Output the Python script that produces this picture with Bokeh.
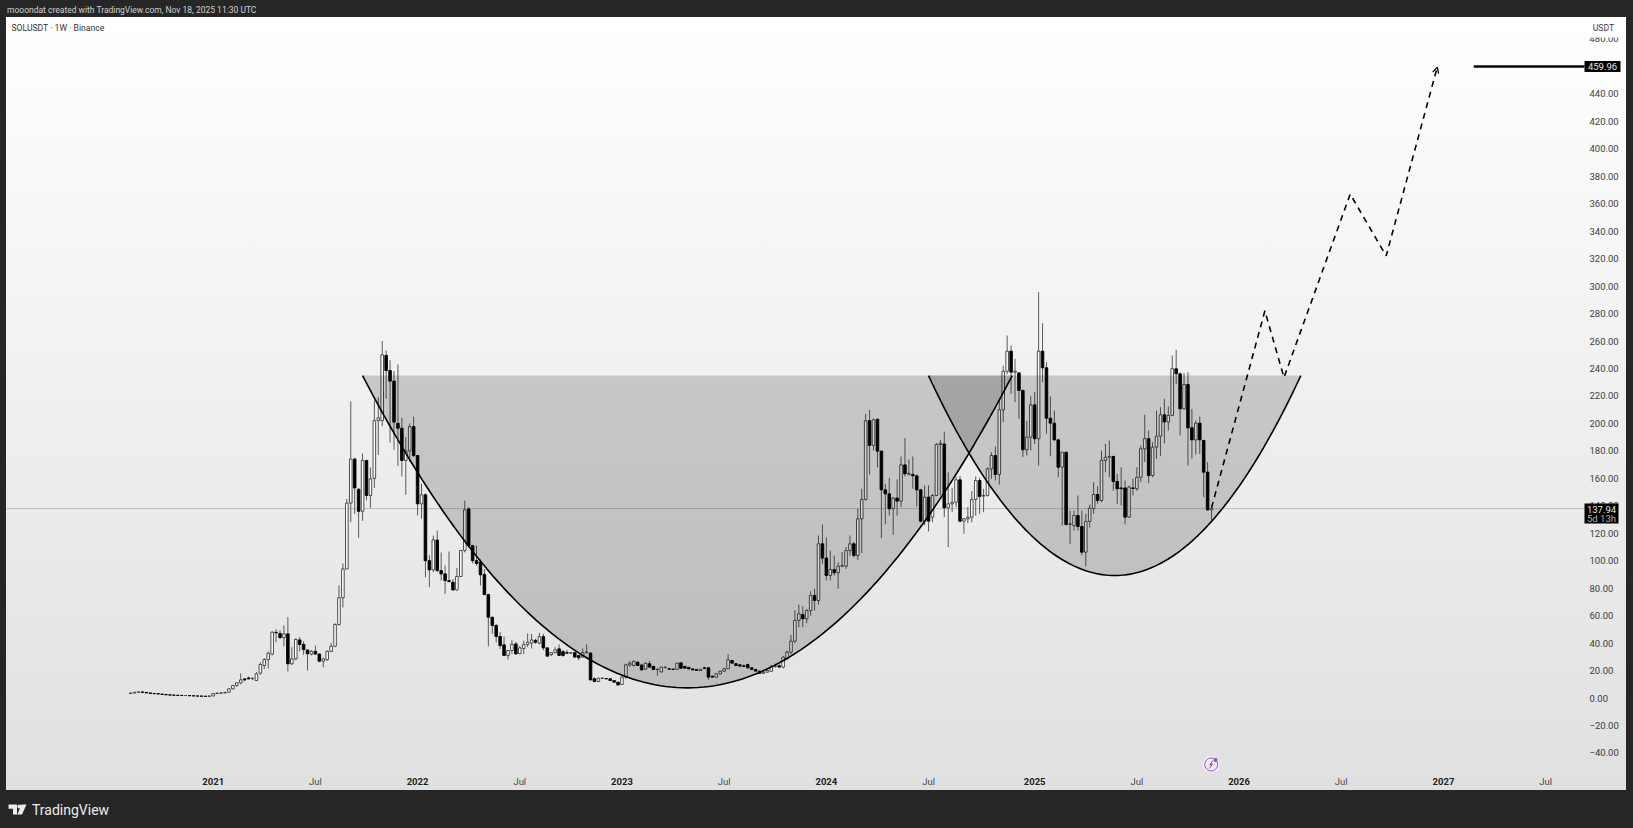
from datetime import datetime, timedelta, timezone
import numpy as np
from bokeh.plotting import figure
from bokeh.embed import file_html
from bokeh.resources import INLINE
from bokeh.models import (ColumnDataSource, FixedTicker, Label, PolyAnnotation, Arrow, OpenHead,
                          GlobalInlineStyleSheet)

# ---------- data ----------
first_week = "2020-08-10"
opens = [3.3,3.6,4.2,4.4,4.1,3.7,3.3,3.1,2.9,2.6,2.3,2.1,2.0,1.9,1.8,1.8,1.6,1.5,1.4,1.3,
 1.2,1.5,3.2,3.5,3.7,4.2,6.7,9.1,11,13.9,14.6,14,12.7,18.1,23.7,28,32,47.8,47,44,
 46.7,24.9,28.5,42.3,39,35,32,34,32,26.8,28,34,37.7,53.5,73,94,142,174,152,136,
 173,147.5,160,202,202,249.5,238.5,230.8,200,196.5,173,180,197.7,176.6,141.4,148,100,93.3,115,92.8,
 90.4,85.5,84.3,78.7,88.5,107.4,137.7,111,100,99,90,75.3,58.8,52.8,44.8,38.7,31,34.6,39.4,32.3,
 36,39,40,42,40,44.7,36.5,31.5,33,35.8,33.8,33,32.7,33,31,29.8,33,32.7,14,12,
 14.3,14.2,14,12.7,11.5,9.9,15.2,24,23.7,26,24,21,25,23,20.7,19,22.3,21.3,21,20.8,
 25.6,23,22.3,21.2,20.7,20,22,22,15.8,15.2,17.6,19.5,21.3,27.3,25,24.2,23.4,24.4,22,20.8,
 19.5,18,18.8,19.5,23,23.5,22.5,28.5,33.4,41.4,56.5,60.8,57.7,63.7,74.7,71,112.3,101.9,89.2,93.6,
 91.2,96,96,107.4,112.3,103.8,130.5,144.6,202,184,203,179.8,151.6,148.7,138,145.6,143.4,169.8,163,162.8,
 161.8,151.6,128.8,146.3,131.7,147.5,184.6,185,138.5,141.4,142.6,158.9,128.8,130.5,131.7,144.6,158.4,147,147.5,166.9,
 176.6,162.8,209.9,238,252.6,237.3,236.8,224,180.8,190,213.5,188.8,252.6,240.5,203.8,200.2,188,168.1,179,126.4,
 125.6,132.9,124.9,106.2,128.6,138,148.2,143.8,173,175.4,175.9,157.7,153,153,131.7,153,152.4,160.8,181.5,188.9,
 162,182.7,190.7,206.3,201,205.8,239.8,236.1,210.6,228.3,196.8,188,200.2,187.6,164.5,137]
highs = [3.9,4.4,4.6,4.6,4.2,3.8,3.5,3.2,3.0,2.7,2.5,2.3,2.2,2.1,2.0,1.9,1.8,1.7,1.6,1.5,
 1.7,3.6,4.0,4.2,4.4,7,9.5,11.4,18,14.5,15.5,14.8,19,26,29,34,48.5,50,49.2,52.8,
 58.9,37,43.5,44.3,41.4,35.3,35,38.2,32.6,29.3,34.6,40.2,54.5,82,98,145,216,175,153,178,
 173.5,168,216.7,219,260,253,246,238,243,204,190,200,205,177,156,149,104,118.3,122,106,
 96.5,106.7,86.7,94.8,107.9,143.8,139,111.5,111,101,94,76,59.3,54,48,44.8,35,42.3,40.6,38,
 41.8,47,46.6,43,47.5,46.7,37,33,37,39,35,35,33.5,33.5,31.5,36,39,33.5,15,14.8,
 15,14.5,14.2,12.9,11.8,17,25,27,27.5,27,25,26,27,23.5,21.5,23,23,21.8,21.6,25.6,
 26,23.5,22.6,21.5,21,21.2,22.4,22.3,16.5,18,20,22,32,27.8,25.5,24.8,24.5,25,22.5,21.2,
 20,19.5,20.5,24,25,24.5,30.5,34.5,46,64,68,67,65,77.8,79.5,118.4,126.4,117,107.4,103.8,
 98.9,106.2,109.9,118.4,113.5,137.8,152.4,207,209.9,203.5,203.6,180,156,160.4,146.3,159.2,175.9,189.3,173.7,175.9,
 162.8,152.4,154.8,154.8,148.7,185.6,188,194,164.5,153.1,161.3,161.8,131,139,150.7,161.3,160.4,152.4,168,179,
 183.2,216.7,242,264,256.8,247,237.3,224.5,202,220,222.8,295.6,273,244.6,219.6,209.4,188.8,179,179.3,136.5,
 136.5,147.5,136.5,134.1,140.9,157.2,154,180.3,185.1,187.5,176.5,163.3,168.1,158.4,154.8,159.6,168.1,183.9,206.3,194.8,
 186.3,209.4,211.8,217.9,212.3,249.5,253.6,237,236.6,237.3,210.6,202,205,188,171.8,139]
lows = [3.0,3.5,4.0,4.0,3.6,3.2,3.0,2.8,2.5,2.2,2.0,1.9,1.8,1.7,1.7,1.5,1.4,1.3,1.2,1.1,
 1.0,1.4,2.9,3.2,3.4,4,6.2,8.2,10,12,13.5,13.2,12.3,17,21,21.5,31,40.6,43,37.7,
 19.3,24,27.5,34,31.5,20,31,31.5,26,22.4,27,33.3,37,52.8,66,94,128,134,116.6,129,
 144,138.5,153,177,198,218,186,180.7,169,161.3,148,172,175.5,133,130.5,88,80.7,91.6,91.6,85.5,
 75.8,84.3,78.3,78.3,88,106,109.8,98,96.5,82,75,37.5,46.7,40.6,35.7,30.4,28,32,31.7,32,
 32,37,36,39.5,39,34.7,30,30.5,32.5,31,30,32.3,32,29.5,27.5,29.5,32.5,12.8,11.5,11.8,
 14,13.5,12.5,11.3,9.0,9.6,14,23,23,23.3,20,20.5,22,20.5,16.3,18.5,21.5,20.5,20.6,20.5,
 21.5,21.5,20.8,20.3,19.8,19.8,21.2,13.2,15,15,17.2,19,21,24.9,23.2,23,22.8,21.5,20.5,19.3,
 17.7,17.5,18.5,19,22,22,21.5,28,32,40,51.6,51.6,54.5,60,63.7,68,97.7,85.6,85.6,89.2,
 79.5,95.3,94,103.8,102.5,100.6,105.5,143.8,162.8,180.3,168,116.4,126.4,132.9,118.9,132.9,139,161.3,162,152.4,
 139.5,128,125.6,121.3,128,147,147.5,131.7,109.9,135.4,139,128,119.6,127.3,128,132.9,134.1,135.4,146.8,159.6,
 158.4,155.5,200.9,236,221.5,215.5,203.3,175.4,176.6,180.3,185,169.3,230,192.4,176,187.5,160.8,125.6,125.6,112.3,
 122,122,103.8,95.8,124,134.1,141.4,142.6,164.5,160.8,151,141.4,140.2,126.4,131.2,147.5,151,157.2,171.8,156.5,
 160.8,174.2,176.1,185.6,194.8,205.3,228.8,191.2,210,169.3,174.2,177.3,177.8,146.3,136.5,129.3]
closes = [3.6,4.2,4.4,4.1,3.7,3.3,3.1,2.9,2.6,2.3,2.1,2.0,1.9,1.8,1.8,1.6,1.5,1.4,1.3,1.2,
 1.5,3.2,3.5,3.7,4.1,6.7,9.1,11,13.2,13.2,14,14.4,17.6,24.4,28,32.6,48,47.5,44,46.7,
 24.9,28.5,42.6,39,35.3,32.2,34,32,26.8,28.5,34,37.7,53.5,73,94,142,174,153,136,173,
 147.5,159.6,202,204,250,238.5,230.8,200.9,196.5,173,180,197.7,176.6,141.4,148,100,93.3,115.2,92.8,90.4,
 85.5,84.8,78.7,88.5,107.4,137,111,100,98,89.7,75.3,58.8,52.8,44.8,38.2,31,34.6,39,32.1,36.5,
 38.8,40.6,42.3,40.6,44.7,36.5,30.5,33,35,31,31,32.6,33,29.8,29.3,33,33.5,13.2,12,14.4,
 14.5,13.9,12.7,11.5,9.5,15.2,24.2,25.4,26.6,23.7,20.5,25.3,22.5,20.8,20.9,22.4,22.4,21,20.8,25.4,
 21.7,21.7,21.2,20.5,20,20.9,21.6,15.2,15.2,17.6,19.5,21.3,27.8,25.4,23.7,23.2,23,22,20.8,19.6,
 18,18.8,20,23,23.5,22.5,29.7,33.4,41.4,56.5,61.3,57.7,63.7,74.7,71,112.3,101.9,89.2,93.6,91.2,
 96,96.4,107.4,112.3,103.8,130.5,144.6,202,184,202.6,179.8,151.6,148.7,137.8,145.6,143.4,169.8,163.3,163.6,161.8,
 151.6,128.8,146.3,128.8,147.5,184.6,185.6,138.5,141.4,142.6,158.9,128.8,130.5,131.7,144.6,158.4,146.8,147.5,166.9,176.6,
 162.8,209.9,238,252.6,237.3,238,224,180.8,190,213.5,188.8,252.6,240.5,203.8,200.2,188,168.1,179,126.4,126.9,
 132.9,124.9,106.2,128.6,138.3,148.2,143.8,173,175.4,176,157.7,152.4,152.4,131.7,153.6,152.6,160.8,181.5,188.9,162,
 182.7,190.7,206.3,201,205.8,239.8,236.1,210.6,228.3,196.8,188,200.2,188,164.5,137,137.94]

price_ticks = [-40,-20,0,20,40,60,80,100,120,140,160,180,200,220,240,260,280,300,320,340,360,380,400,420,440,460,480]
price_labels = ["\u221240.00","\u221220.00","0.00","20.00","40.00","60.00","80.00","100.00","120.00","140.00","160.00",
                "180.00","200.00","220.00","240.00","260.00","280.00","300.00","320.00","340.00","360.00","380.00",
                "400.00","420.00","440.00","460.00","480.00"]
year_ticks = ["2021-01-04","2022-01-03","2023-01-02","2024-01-01","2025-01-06","2026-01-05","2027-01-04"]
year_labels = ["2021","2022","2023","2024","2025","2026","2027"]
jul_ticks = ["2021-07-05","2022-07-04","2023-07-03","2024-07-01","2025-07-07","2026-07-06","2027-07-05"]

last_price = 137.94
target_price = 459.96
rim_price = 234.8
cup1_dates = ["2021-09-27","2024-11-27"]
cup1_bottom = 7.4
cup2_dates = ["2024-07-01","2026-04-25"]
cup2_bottom = 89.2
path_dates = ["2025-11-17","2026-02-20","2026-03-26","2026-07-22","2026-09-24","2026-12-24"]
path_prices = [138.6,282,233.4,367,322,459.5]
target_start = "2027-02-27"

# ---------- scales: picture pixels <-> chart values ----------
DARK = "#262626"
def ms(s):
    return datetime.strptime(s, "%Y-%m-%d").replace(tzinfo=timezone.utc).timestamp() * 1000.0
PX_DAY = 0.5615
X0, XMS = 212.7, ms("2021-01-04")
Y0, PX_PRICE = 697.5, 1.373
sx = lambda px: XMS + (px - X0) / PX_DAY * 86400000.0
sy = lambda py: (Y0 - py) / PX_PRICE

W, H = 1633, 828
PANEL_L, PANEL_R, PANEL_T, PANEL_B = 6, 1626, 17, 790
# The frame spans the whole canvas so annotations may sit anywhere; the axes reach back into it.
p = figure(width=W, height=H, x_axis_type="datetime", y_axis_location="right",
           x_range=(sx(0), sx(W)), y_range=(sy(H), sy(0)),
           toolbar_location=None, output_backend="svg",
           min_border_left=0, min_border_right=0, min_border_top=0, min_border_bottom=0,
           background_fill_color=None, border_fill_color=None, outline_line_color=None)
p.styles = {"background":
            f"linear-gradient(to right, {DARK} {PANEL_L}px, transparent {PANEL_L}px, transparent {PANEL_R}px, {DARK} {PANEL_R}px),"
            f"linear-gradient(to bottom, {DARK} {PANEL_T}px, #ffffff {PANEL_T}px, #e0e0e0 {PANEL_B}px, {DARK} {PANEL_B}px)"}
p.stylesheets = [GlobalInlineStyleSheet(css=f"html,body{{background:{DARK};overflow:hidden;}}")]
p.grid.visible = False

yax = p.yaxis[0]
yax.ticker = FixedTicker(ticks=price_ticks)
yax.major_label_overrides = dict(zip(price_ticks, price_labels))
yax.axis_line_color = None
yax.major_tick_line_color = None
yax.minor_tick_line_color = None
yax.major_label_standoff = -50
yax.major_label_text_font = "Roboto"
yax.major_label_text_font_size = "9.5px"
yax.major_label_text_color = "#3c3c3c"

xax = p.xaxis[0]
xticks = [ms(t) for t in year_ticks]
xax.ticker = FixedTicker(ticks=xticks)
xax.major_label_overrides = dict(zip(xticks, year_labels))
xax.axis_line_color = None
xax.major_tick_line_color = None
xax.minor_tick_line_color = None
xax.major_label_standoff = -57
xax.major_label_text_font = "Roboto"
xax.major_label_text_font_style = "bold"
xax.major_label_text_font_size = "9.5px"
xax.major_label_text_color = "#222222"

# ---------- candles ----------
t0 = ms(first_week)
WEEK = 7 * 86400000.0
dates = [t0 + i * WEEK for i in range(len(opens))]
src = ColumnDataSource(dict(
    x=dates, o=opens, h=highs, l=lows, c=closes,
    fill=["#ffffff" if c >= o else "#000000" for o, c in zip(opens, closes)],
    line=["#3a3a3a" if c >= o else "#000000" for o, c in zip(opens, closes)],
))

# last price line goes under the shading, like the candles
p.line([sx(PANEL_L), sx(1584)], [last_price, last_price], line_color="#bdbdbd", line_width=1)
p.segment("x", "h", "x", "l", source=src, line_color="#5a5a5a", line_width=1)
p.vbar("x", width=4.6 * 86400000.0, top="o", bottom="c", source=src,
       fill_color="fill", line_color="line", line_width=0.9)

# ---------- the two cups: a quadratic Bezier between rim points ----------
def cup(dates_pair, bottom):
    a, b = ms(dates_pair[0]), ms(dates_pair[1])
    t = np.linspace(0, 1, 121)
    xs = a + (b - a) * t
    ctrl = 2 * bottom - rim_price
    ys = (1 - t) ** 2 * rim_price + 2 * t * (1 - t) * ctrl + t ** 2 * rim_price
    return xs, ys

for pair, bot in ((cup1_dates, cup1_bottom), (cup2_dates, cup2_bottom)):
    xs, ys = cup(pair, bot)
    p.patch(xs, ys, fill_color="#000000", fill_alpha=0.17, line_color=None)
for pair, bot in ((cup1_dates, cup1_bottom), (cup2_dates, cup2_bottom)):
    xs, ys = cup(pair, bot)
    p.line(xs, ys, line_color="#000000", line_width=1.6)

# ---------- forecast path and target ----------
px = [ms(d) for d in path_dates]
p.line(px, path_prices, line_color="#000000", line_width=1.6, line_dash="6 5")
p.add_layout(Arrow(end=OpenHead(size=6, line_width=1.3, line_color="#000000"),
                   x_start=px[-1] - 9 * 86400000.0, y_start=path_prices[-1] - 13.6,
                   x_end=px[-1], y_end=path_prices[-1], line_alpha=0))
p.line([ms(target_start), sx(1584)], [target_price, target_price], line_color="#000000", line_width=2.4)

# ---------- lightning badge ----------
p.scatter([sx(1210.7)], [sy(764)], size=17, marker="circle", fill_color="#f6ecf8", line_color=None)
p.scatter([sx(1210.7)], [sy(764)], size=13, marker="circle", fill_color=None, line_color="#8e5aa8", line_width=1)
p.line([sx(1212.5), sx(1209.2), sx(1212), sx(1208.8)], [sy(760), sy(764.5), sy(763.5), sy(768)],
       line_color="#7d4a9a", line_width=1)
p.scatter([sx(1215)], [sy(759.5)], size=4, marker="circle", fill_color="#8e5aa8", line_color=None)

# ---------- annotations ----------
def txt(x, y, s, size, color, align="left", style="normal", font="Roboto"):
    p.add_layout(Label(x=sx(x), y=sy(y), text=s, text_font=font, text_font_size=f"{size}px",
                       text_color=color, text_align=align, text_baseline="middle", text_font_style=style))

def poly(xy, color):
    p.add_layout(PolyAnnotation(xs=[sx(a) for a, _ in xy], ys=[sy(b) for _, b in xy],
                                fill_color=color, fill_alpha=1, line_color=None))

for d in jul_ticks:
    p.add_layout(Label(x=ms(d), y=sy(781), text="Jul", text_font="Roboto", text_font_size="9.5px",
                       text_color="#4a4a4a", text_align="center", text_baseline="middle"))

# header, legend, footer
txt(6.5, 9.5, "mooondat created with TradingView.com, Nov 18, 2025 11:30 UTC", 8.5, "#d0d0d0")
txt(11, 27, "SOLUSDT \u00b7 1W \u00b7 Binance", 8.6, "#333333")
txt(31.5, 809, "TradingView", 14, "#ececec")

# price scale header hides the top tick, as in TradingView
poly([(1586, 18), (1624, 18), (1624, 37), (1586, 37)], "#ffffff")
txt(1603, 27.5, "USDT", 8.7, "#3c3c3c", align="center")

# price tags
poly([(1584, 60.5), (1620, 60.5), (1620, 71.5), (1584, 71.5)], "#000000")
txt(1602, 66, "459.96", 9.5, "#e6e6e6", align="center")
poly([(1584, 503), (1618, 503), (1618, 523), (1584, 523)], "#000000")
txt(1601, 508.5, "137.94", 9.5, "#e6e6e6", align="center")
txt(1601, 518, "5d 13h", 9.5, "#b5b5b5", align="center")

# TradingView logo
poly([(8, 804), (16.5, 804), (16.5, 814), (12.5, 814), (12.5, 808.3), (8, 808.3)], "#ececec")
poly([(21, 804), (26, 804), (21.5, 814), (16.8, 814)], "#ececec")
p.scatter([sx(18.9)], [sy(806)], size=4, marker="circle", fill_color="#ececec", line_color=None)

open("out.html", "w").write(file_html(p, INLINE))
